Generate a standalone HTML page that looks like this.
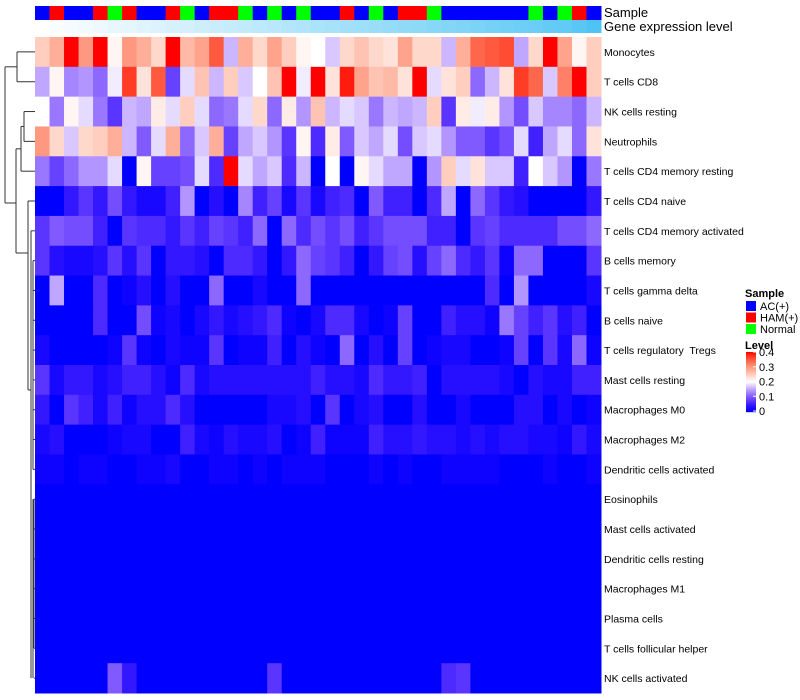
<!DOCTYPE html>
<html><head><meta charset="utf-8"><style>
html,body{margin:0;padding:0;background:#fff;}
svg{display:block;font-family:"Liberation Sans",sans-serif;}
#labels text{white-space:pre;}
</style></head><body>
<svg id="chart" width="800" height="700" viewBox="0 0 800 700" xmlns="http://www.w3.org/2000/svg">
<g id="dendro" stroke="#333" stroke-width="1" fill="none"></g>
<g id="annot"></g>
<g id="cells"></g>
<g id="labels" font-size="10.5" fill="#000"></g>
<text x="604" y="17" font-size="13">Sample</text>
<text x="604" y="31" font-size="13">Gene expression level</text>
<g id="legend" font-size="11"></g>
</svg>
<script>
const rowNames=["Monocytes","T cells CD8","NK cells resting","Neutrophils","T cells CD4 memory resting","T cells CD4 naive","T cells CD4 memory activated","B cells memory","T cells gamma delta","B cells naive","T cells regulatory  Tregs","Mast cells resting","Macrophages M0","Macrophages M2","Dendritic cells activated","Eosinophils","Mast cells activated","Dendritic cells resting","Macrophages M1","Plasma cells","T cells follicular helper","NK cells activated"];
const sampleGroups="BRBBRGRBBRGBRRGBGBGBBRBGBRRGBBBBBBGBGRB".split("");
const geneLevel=[0,0.03,0.05,0.08,0.1,0.13,0.15,0.18,0.2,0.23,0.25,0.28,0.3,0.33,0.35,0.38,0.4,0.43,0.45,0.48,0.5,0.53,0.55,0.58,0.6,0.63,0.65,0.68,0.7,0.73,0.75,0.78,0.8,0.83,0.85,0.88,0.9,0.95,1];
const r0=[0.25,0.28,0.4,0.3,0.4,0.21,0.3,0.28,0.24,0.4,0.27,0.29,0.35,0.16,0.28,0.24,0.29,0.25,0.21,0.2,0.17,0.24,0.26,0.24,0.23,0.29,0.24,0.24,0.16,0.28,0.34,0.35,0.36,0.15,0.24,0.4,0.29,0.21,0.25];
const r1=[0.15,0.21,0.13,0.14,0.11,0.19,0.37,0.23,0.35,0.08,0.18,0.26,0.16,0.25,0.17,0.2,0.26,0.4,0.19,0.4,0.23,0.39,0.29,0.26,0.27,0.23,0.4,0.18,0.23,0.25,0.11,0.16,0.23,0.37,0.34,0.17,0.32,0.4,0.25];
const r2=[0.2,0.12,0.21,0.18,0.12,0.07,0.16,0.15,0.22,0.18,0.25,0.18,0.11,0.12,0.18,0.24,0.11,0.22,0.14,0.26,0.16,0.18,0.17,0.12,0.16,0.15,0.16,0.25,0.07,0.22,0.19,0.22,0.14,0.09,0.17,0.13,0.13,0.11,0.16];
const r3=[0.3,0.24,0.17,0.24,0.25,0.28,0.16,0.1,0.18,0.28,0.11,0.17,0.28,0.08,0.15,0.17,0.14,0.07,0.21,0.06,0.22,0.1,0.17,0.15,0.18,0.09,0.17,0.18,0.14,0.1,0.1,0.07,0.09,0.18,0.05,0.15,0.18,0.11,0.23];
const r4=[0.12,0.08,0.11,0.14,0.14,0.18,0,0.21,0.08,0.08,0.09,0.18,0.06,0.4,0.18,0.15,0.17,0.06,0.16,0,0.2,0,0.21,0.18,0.15,0.15,0,0.14,0.25,0.18,0.23,0.17,0.17,0.05,0.2,0.17,0.14,0,0.12];
const r5=[0,0,0.04,0.07,0.04,0.09,0.04,0.02,0.02,0.05,0.14,0,0.03,0,0.13,0.05,0.08,0.02,0.07,0.02,0.05,0.06,0,0.1,0.05,0.05,0,0.06,0.15,0,0.11,0.07,0.04,0.03,0,0,0,0,0.04];
const r6=[0.07,0.1,0.09,0.09,0.05,0,0.07,0.06,0.06,0.04,0.07,0.05,0.08,0.07,0.05,0.11,0,0.11,0.06,0.09,0.07,0.09,0.05,0.07,0.09,0.09,0.09,0.05,0.05,0,0.07,0.08,0.06,0.06,0.06,0.06,0.09,0.09,0.11];
const r7=[0.07,0.03,0.02,0.02,0.03,0.07,0.03,0.07,0,0.04,0.04,0.03,0,0.06,0.06,0.04,0,0.04,0.11,0.08,0.07,0.05,0,0.04,0.08,0.09,0.03,0.08,0.11,0.06,0.04,0.07,0.01,0.11,0.11,0,0,0,0.07];
const r8=[0,0.15,0,0,0.06,0,0.01,0.03,0,0.03,0,0,0.11,0,0,0.02,0,0,0.11,0,0,0,0,0,0,0,0,0,0,0,0,0.06,0,0.14,0,0,0,0,0.02];
const r9=[0,0,0,0,0.06,0,0,0.09,0.01,0.02,0,0.02,0.04,0.02,0.03,0.04,0.06,0.01,0,0.02,0.06,0.06,0.02,0,0.01,0.08,0,0,0.05,0.03,0.03,0.01,0.12,0.08,0.05,0.07,0.03,0.05,0];
const r10=[0.02,0,0,0,0,0.01,0.07,0.01,0,0.02,0.01,0.01,0.07,0,0.01,0.01,0.05,0,0.03,0.01,0,0.11,0,0.03,0,0.08,0,0.01,0.02,0.02,0,0,0.01,0.08,0,0.07,0.02,0.11,0.01];
const r11=[0.07,0.02,0.04,0.04,0.02,0.03,0.05,0.05,0.03,0.01,0.06,0.02,0.03,0.03,0.03,0.03,0.03,0.03,0.03,0.05,0.03,0.03,0.02,0.06,0.04,0.04,0.05,0,0.03,0.03,0.03,0.03,0.02,0,0.03,0.02,0.02,0.05,0.05];
const r12=[0.04,0,0.07,0.05,0.02,0.05,0.01,0.03,0.03,0.06,0.03,0,0,0,0,0,0.02,0.02,0.03,0,0.07,0,0.02,0.03,0,0,0.03,0,0,0.02,0,0,0,0.03,0.03,0,0.02,0,0.01];
const r13=[0.02,0.03,0,0,0,0.01,0.02,0.02,0,0,0.05,0.02,0.01,0.03,0.02,0.02,0.03,0,0.01,0.05,0.01,0.01,0.01,0.05,0.03,0.03,0.04,0.03,0.03,0.02,0.03,0.02,0.03,0.03,0.02,0.02,0.01,0.04,0.02];
const r14=[0.01,0.01,0,0.01,0.01,0,0,0.01,0.01,0.02,0,0,0.01,0.01,0,0.01,0,0.01,0.01,0.01,0,0,0,0.01,0,0.01,0,0,0.01,0.01,0.01,0.01,0,0,0,0.01,0,0,0.01];
const zeroRow=[0,0,0,0,0,0,0,0,0,0,0,0,0,0,0,0,0,0,0,0,0,0,0,0,0,0,0,0,0,0,0,0,0,0,0,0,0,0,0];
const r21=[0,0,0,0,0,0.1,0.04,0,0,0,0,0,0,0,0,0,0.07,0,0,0,0,0,0,0,0,0,0,0,0.06,0.07,0,0,0,0,0,0,0,0,0];
const values=[r0,r1,r2,r3,r4,r5,r6,r7,r8,r9,r10,r11,r12,r13,r14,zeroRow,zeroRow,zeroRow,zeroRow,zeroRow,zeroRow,r21];

const NS="http://www.w3.org/2000/svg";
const X0=35,X1=601,Y0=37,Y1=693;
const nC=sampleGroups.length,nR=rowNames.length;
const cw=(X1-X0)/nC,rh=(Y1-Y0)/nR;
const xPos=i=>X0+i*cw, yPos=j=>Y0+j*rh;
function col(v){
  v=Math.max(0,Math.min(0.4,v));
  if(v<=0.2){const t=v/0.2;return `rgb(${Math.round(255*t)},${Math.round(255*Math.pow(t,1.5))},255)`;}
  const t=(v-0.2)/0.2;return `rgb(255,${Math.round(255*Math.pow(1-t,0.75))},${Math.round(255*(1-t))})`;
}
function mk(tag,attrs,parent){const e=document.createElementNS(NS,tag);for(const k in attrs)e.setAttribute(k,attrs[k]);parent.appendChild(e);return e;}
const gCells=document.getElementById('cells');
values.forEach((row,j)=>row.forEach((v,i)=>{
  const r=mk('rect',{x:xPos(i),y:yPos(j),width:cw+0.5,height:rh+0.5,fill:col(v)},gCells);
  
  
}));
const gLab=document.getElementById('labels');
rowNames.forEach((n,j)=>{
  const t=mk('text',{x:604,y:yPos(j)+rh/2+4},gLab);t.textContent=n;
  t.setAttribute('xml:space','preserve');
  
  
});
const gA=document.getElementById('annot');
const grpCol={B:'#0000ff',R:'#ff0000',G:'#00ff00'};
sampleGroups.forEach((g,i)=>{
  const r=mk('rect',{x:xPos(i),y:6,width:cw+0.5,height:14,fill:grpCol[g]},gA);
  
  
});
geneLevel.forEach((v,i)=>{
  const c=`rgb(${Math.round(255-176*v)},${Math.round(255-59*v)},${Math.round(255-11*v)})`;
  const r=mk('rect',{x:xPos(i),y:20,width:cw+0.5,height:13,fill:c},gA);
  
  
});
const gD=document.getElementById('dendro');
const yc=j=>yPos(j)+rh/2;
const segs=[
 [17,yc(0),17,yc(1)],[17,yc(0),X0,yc(0)],[17,yc(1),X0,yc(1)],
 [24,yc(2),24,yc(3)],[24,yc(2),X0,yc(2)],[24,yc(3),X0,yc(3)],
 [21,(yc(2)+yc(3))/2,21,yc(4)],[21,(yc(2)+yc(3))/2,24,(yc(2)+yc(3))/2],[21,yc(4),X0,yc(4)],
 [16,(yc(2)+yc(3))/2*0.5+yc(4)*0.5,16,253],[16,(yc(2)+yc(3)+2*yc(4))/4,21,(yc(2)+yc(3)+2*yc(4))/4],[16,253,28,253],
 [5,(yc(0)+yc(1))/2,5,203],[5,(yc(0)+yc(1))/2,17,(yc(0)+yc(1))/2],[5,203,16,203],
 [28,yc(5),28,390],[28,yc(5),X0,yc(5)],[28,390,31,390],
 [31,yc(6),31,yc(21)],[31,yc(6),X0,yc(6)],
 [33,yc(7),33,yc(14)],[33,yc(15),33,yc(21)],
 [34,yc(15),34,yc(20)]
];
segs.forEach(s=>{
  const l=mk('line',{x1:s[0],y1:s[1],x2:s[2],y2:s[3]},gD);
  
  
});
for(let j=7;j<22;j++){
  const l=mk('line',{x1:j<15?33:34,y1:yc(j),x2:X0,y2:yc(j)},gD);
  
  
}
const gL=document.getElementById('legend');
const t1=mk('text',{x:745,y:297,'font-weight':'bold','font-size':'11'},gL);t1.textContent='Sample';


[['AC(+)','#0000ff'],['HAM(+)','#ff0000'],['Normal','#00ff00']].forEach((e,k)=>{
  const r=mk('rect',{x:746,y:301+k*11.5,width:10,height:10,fill:e[1]},gL);
  
  
  const t=mk('text',{x:760,y:310+k*11.5,'font-size':'11'},gL);t.textContent=e[0];
  
  
});
const t2=mk('text',{x:745,y:349,'font-weight':'bold','font-size':'11'},gL);t2.textContent='Level';


for(let k=0;k<60;k++){
  const v=0.4*(1-k/59);
  const r=mk('rect',{x:746,y:352+k,width:10,height:1.2,fill:col(v)},gL);
  
  
}
const levelTicks=[0.4,0.3,0.2,0.1,0];
levelTicks.forEach(v=>{
  const y=352+(0.4-v)/0.4*59;
  const l=mk('line',{x1:753,y1:y,x2:756,y2:y,stroke:'#fff','stroke-width':1},gL);
  
  
  const t=mk('text',{x:759,y:y+4,'font-size':'11'},gL);t.textContent=String(v);
  
  
});
</script>
</body></html>
